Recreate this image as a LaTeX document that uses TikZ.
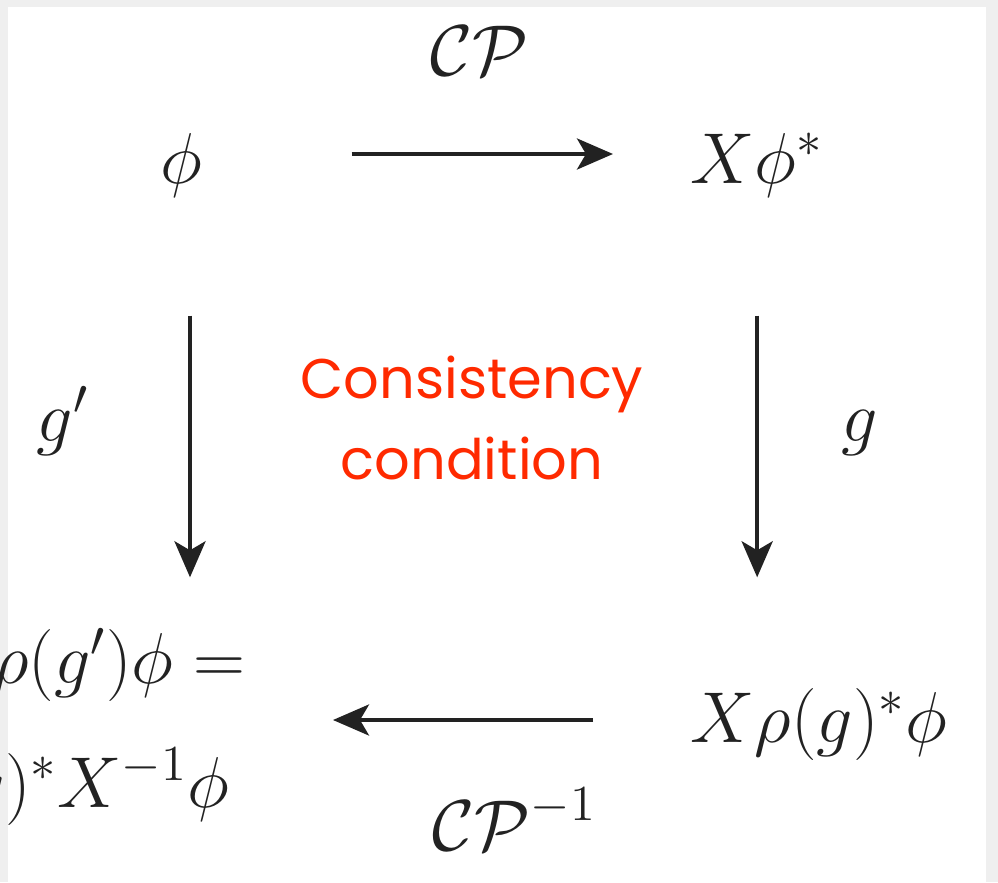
\documentclass[tikz,border=0pt]{standalone}
\usepackage{fix-cm}
\usepackage{fontspec}
\newfontfamily\handfont{Poppins}
\usetikzlibrary{arrows.meta}

\definecolor{inkgray}{HTML}{222222}
\definecolor{handred}{HTML}{FF2A00}
\definecolor{slidegray}{HTML}{EFEFEF}

\tikzset{
  mathnode/.style={inner sep=0pt, text height=0.58cm, text depth=0cm,
    text=inkgray, font=\fontsize{20.5}{24.6}\selectfont},
  cdarrow/.style={draw=inkgray, line width=0.04cm,
    -{Stealth[length=0.36cm, width=0.31cm, inset=0.09cm]}},
  remark/.style={text=handred, align=center, inner sep=0pt,
    font=\handfont\fontsize{15.9}{22.8}\selectfont}
}

\begin{document}
\begin{tikzpicture}
  \clip (0, 0) rectangle (9.98, 8.82);
  \fill[slidegray] (0, 0) rectangle (9.98, 8.82);
  \fill[white] (0.08, -0.1) rectangle (9.86, 8.75);

  % corners of the square
  \node[mathnode, anchor=base] (phi) at (1.81, 6.99) {$\phi$};
  \node[mathnode, anchor=base west] (Xphi) at (6.90, 6.99) {$X\phi^*$};
  \node[mathnode, anchor=base west] (Xrho) at (6.90, 1.40) {$X\rho(g)^*\phi$};
  \node[mathnode, anchor=base east] (rhoup) at (2.46, 1.99) {$\rho(g')\phi =$};
  \node[mathnode, anchor=base east] (rholow) at (2.30, 0.75) {$X\rho(g)^*X^{-1}\phi$};

  % labels of the maps
  \node[mathnode, anchor=base] (cp) at (4.80, 8.07) {$\mathcal{CP}$};
  \node[mathnode, anchor=base west] (cpinv) at (4.32, 0.32) {$\mathcal{CP}^{-1}$};
  \node[mathnode, anchor=base west] (gprime) at (0.36, 4.41) {$g'$};
  \node[mathnode, anchor=base west] (gmap) at (8.41, 4.41) {$g$};

  \node[remark] (cons) at (4.72, 4.64) {Consistency\\condition};

  % arrows
  \draw[cdarrow, shorten <=1.49cm, shorten >=0.77cm] (phi) -- (Xphi);
  \draw[cdarrow, shorten <=1.32cm, shorten >=0.47cm]
    ([xshift=0.09cm]phi.south) -- ([xshift=0.09cm]phi.south |- rhoup.north);
  \draw[cdarrow, shorten <=1.32cm, shorten >=1.06cm]
    (Xphi.south) -- (Xphi.south |- Xrho.north);
  \draw[cdarrow, shorten <=0.97cm, shorten >=0.87cm]
    ([yshift=-0.07cm]Xrho.west) -- ([yshift=-0.07cm]Xrho.west -| rhoup.east);
\end{tikzpicture}
\end{document}
